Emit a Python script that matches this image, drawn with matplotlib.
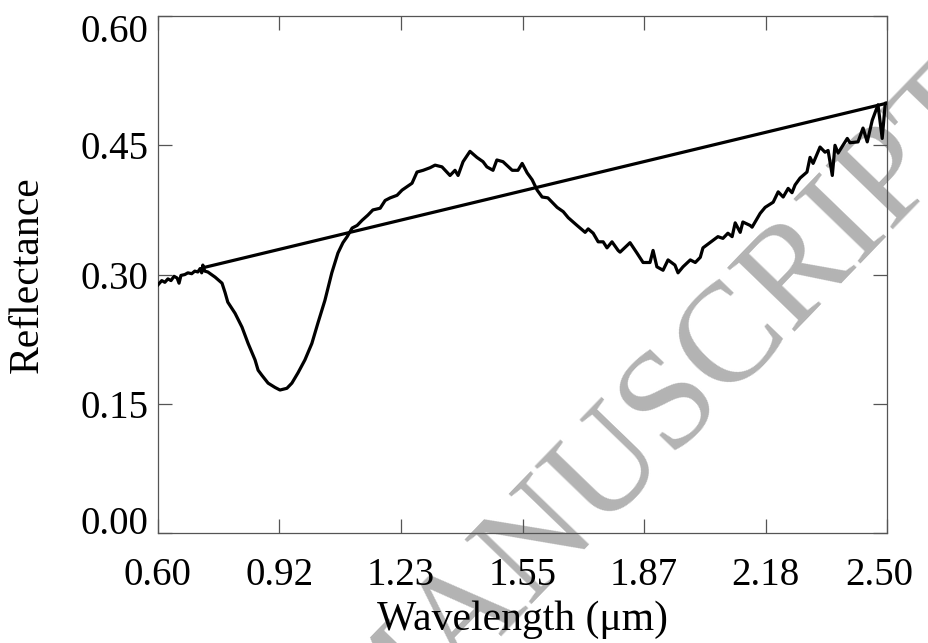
import matplotlib
matplotlib.use("Agg")
import matplotlib.pyplot as plt
from matplotlib.transforms import ScaledTranslation

plt.rcParams.update({
    "font.family": ["Liberation Serif", "DejaVu Serif"],
    "font.size": 28,
})

# spectrum (wavelength in um, reflectance)
wavelength = [
    0.600, 0.610, 0.618, 0.626, 0.634, 0.642, 0.650, 0.655, 0.660, 0.670,
    0.678, 0.688, 0.696, 0.704, 0.710, 0.714, 0.717, 0.722, 0.730, 0.749,
    0.767, 0.775, 0.782, 0.801, 0.819, 0.835, 0.853, 0.861, 0.871, 0.887,
    0.905, 0.918, 0.936, 0.949, 0.965, 0.983, 1.001, 1.017, 1.035, 1.053,
    1.069, 1.082, 1.093, 1.106, 1.119, 1.132, 1.147, 1.160, 1.179, 1.192,
    1.205, 1.223, 1.236, 1.249, 1.262, 1.275, 1.291, 1.309, 1.322, 1.340,
    1.361, 1.374, 1.382, 1.395, 1.413, 1.431, 1.447, 1.457, 1.473, 1.483,
    1.499, 1.523, 1.538, 1.549, 1.562, 1.575, 1.588, 1.601, 1.616, 1.640,
    1.656, 1.669, 1.692, 1.713, 1.721, 1.734, 1.747, 1.760, 1.770, 1.783,
    1.799, 1.804, 1.830, 1.848, 1.864, 1.882, 1.890, 1.900, 1.916, 1.929,
    1.947, 1.955, 1.968, 1.987, 2.000, 2.013, 2.020, 2.038, 2.059, 2.072,
    2.085, 2.096, 2.104, 2.117, 2.124, 2.143, 2.148, 2.169, 2.182, 2.203,
    2.216, 2.229, 2.242, 2.252, 2.260, 2.273, 2.291, 2.299, 2.307, 2.325,
    2.338, 2.346, 2.357, 2.364, 2.372, 2.396, 2.403, 2.424, 2.437, 2.448,
    2.461, 2.476, 2.487, 2.495, 2.500,
]
reflectance = [
    0.288, 0.293, 0.291, 0.295, 0.293, 0.298, 0.296, 0.290, 0.299, 0.300,
    0.302, 0.301, 0.304, 0.303, 0.307, 0.302, 0.311, 0.304, 0.303, 0.297,
    0.290, 0.279, 0.268, 0.255, 0.239, 0.220, 0.201, 0.189, 0.183, 0.174,
    0.169, 0.166, 0.168, 0.174, 0.186, 0.201, 0.220, 0.244, 0.270, 0.302,
    0.325, 0.337, 0.344, 0.354, 0.357, 0.363, 0.369, 0.375, 0.377, 0.386,
    0.389, 0.392, 0.398, 0.402, 0.406, 0.419, 0.421, 0.424, 0.427, 0.425,
    0.415, 0.421, 0.415, 0.431, 0.443, 0.436, 0.431, 0.425, 0.421, 0.433,
    0.431, 0.421, 0.421, 0.429, 0.418, 0.410, 0.398, 0.390, 0.389, 0.378,
    0.373, 0.366, 0.357, 0.349, 0.353, 0.348, 0.338, 0.338, 0.331, 0.338,
    0.328, 0.326, 0.337, 0.325, 0.314, 0.314, 0.328, 0.309, 0.305, 0.317,
    0.311, 0.302, 0.309, 0.317, 0.314, 0.320, 0.331, 0.337, 0.344, 0.342,
    0.348, 0.344, 0.360, 0.349, 0.361, 0.357, 0.355, 0.371, 0.378, 0.384,
    0.396, 0.390, 0.400, 0.395, 0.404, 0.412, 0.419, 0.436, 0.429, 0.448,
    0.442, 0.444, 0.415, 0.450, 0.441, 0.458, 0.453, 0.454, 0.470, 0.454,
    0.479, 0.497, 0.458, 0.499, 0.499,
]

# straight-line continuum between the two shoulders
continuum_wl = [0.718, 2.500]
continuum_r = [0.308, 0.499]

x_ticks = [0.60, 0.9167, 1.2333, 1.55, 1.8667, 2.1833, 2.50]
x_ticklabels = ["0.60", "0.92", "1.23", "1.55", "1.87", "2.18", "2.50"]
y_ticks = [0.00, 0.15, 0.30, 0.45, 0.60]
y_ticklabels = ["0.00", "0.15", "0.30", "0.45", "0.60"]

fig = plt.figure(figsize=(9.29, 6.43), dpi=100)
ax = fig.add_axes([0.170, 0.171, 0.785, 0.804])
ax.patch.set_facecolor("none")

# watermark behind everything
fig.text(0.713, 0.355, "MANUSCRIPT", rotation=46, rotation_mode="anchor",
         ha="center", va="center", fontsize=102, color="#b3b3b3", zorder=-5)

ax.plot(wavelength, reflectance, color="black", lw=2.3, zorder=3)
ax.plot(continuum_wl, continuum_r, color="black", lw=2.3, zorder=3)

ax.set_xlim(0.60, 2.50)
ax.set_ylim(0.00, 0.60)
ax.set_xticks(x_ticks)
ax.set_xticklabels(x_ticklabels)
ax.set_yticks(y_ticks)
ax.set_yticklabels(y_ticklabels)

for s in ax.spines.values():
    s.set_color("#555555")
    s.set_linewidth(0.9)
ax.tick_params(direction="in", length=10, width=0.9, color="#555555",
               top=True, right=True, labelsize=28)
ax.tick_params(axis="x", pad=17)
ax.tick_params(axis="y", pad=7)

# end labels pulled inward like the original
def nudge(lbl, dx_px, dy_px):
    lbl.set_transform(lbl.get_transform() +
                      ScaledTranslation(dx_px / 100, dy_px / 100, fig.dpi_scale_trans))

ylbls = ax.get_yticklabels()
nudge(ylbls[0], 0, 13)
nudge(ylbls[-1], 0, -12)
xlbls = ax.get_xticklabels()
nudge(xlbls[-1], -8, 0)

ax.set_xlabel("Wavelength (μm)", fontsize=30)
ax.xaxis.set_label_coords(0.5, -0.13)
ax.set_ylabel("Reflectance", fontsize=30)
ax.yaxis.set_label_coords(-0.152, 0.5)

fig.savefig("out.png", dpi=100)
